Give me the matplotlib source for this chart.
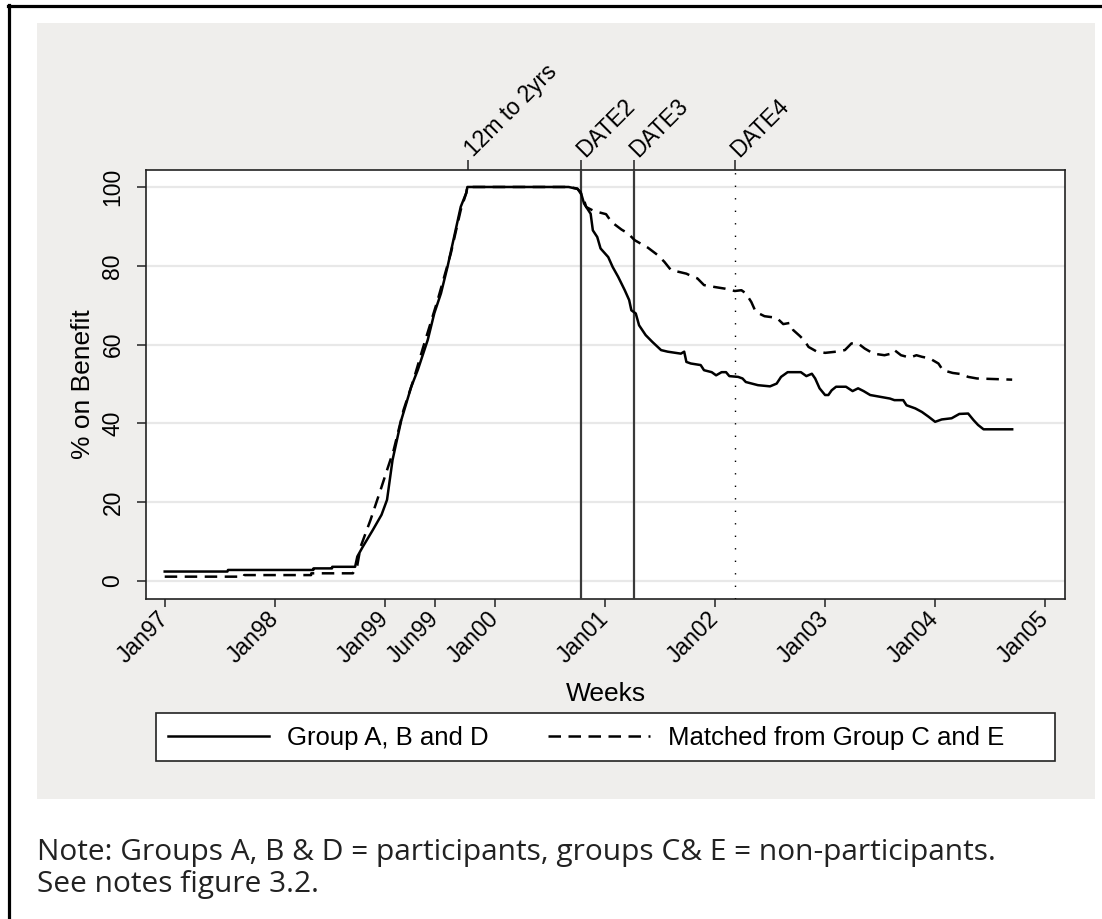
import matplotlib
matplotlib.use("Agg")
import matplotlib.pyplot as plt
from matplotlib.lines import Line2D
from matplotlib.patches import Rectangle

# ---- data -------------------------------------------------------------
# Weekly share of each group on benefit (decimal years on the x axis)
solid_years = [1997.00, 1997.57, 1997.575, 1998.35, 1998.352, 1998.52, 1998.522, 1998.73,
               1998.75, 1998.80, 1998.89, 1998.97, 1999.02, 1999.07, 1999.15, 1999.24,
               1999.30, 1999.39, 1999.45, 1999.51, 1999.57, 1999.63, 1999.69, 1999.74,
               1999.75, 2000.67, 2000.75, 2000.78, 2000.81, 2000.87, 2000.89, 2000.93,
               2000.96, 2001.03, 2001.07, 2001.12, 2001.18, 2001.22, 2001.24, 2001.28,
               2001.31, 2001.37, 2001.43, 2001.51, 2001.57, 2001.69, 2001.72, 2001.74,
               2001.78, 2001.87, 2001.90, 2001.97, 2002.01, 2002.06, 2002.10, 2002.13,
               2002.21, 2002.25, 2002.28, 2002.39, 2002.50, 2002.56, 2002.60, 2002.66,
               2002.78, 2002.83, 2002.88, 2002.91, 2002.95, 2003.00, 2003.03, 2003.06,
               2003.10, 2003.19, 2003.25, 2003.30, 2003.35, 2003.41, 2003.51, 2003.59,
               2003.63, 2003.71, 2003.74, 2003.82, 2003.88, 2003.94, 2004.00, 2004.06,
               2004.15, 2004.22, 2004.30, 2004.35, 2004.39, 2004.44, 2004.70]
solid_pct = [2.4, 2.4, 2.8, 2.8, 3.2, 3.2, 3.6, 3.6,
             6.2, 8.7, 12.9, 16.8, 20.6, 30.7, 40.9, 49.3,
             53.6, 61.2, 68.0, 73.0, 79.8, 87.4, 95.0, 98.5,
             100.0, 100.0, 99.5, 98.7, 95.8, 93.2, 89.0, 87.3,
             84.4, 82.2, 79.7, 77.2, 73.8, 71.3, 68.7, 67.9,
             64.9, 62.4, 60.7, 58.6, 58.2, 57.7, 58.2, 55.6,
             55.2, 54.8, 53.5, 53.0, 52.2, 53.0, 53.0, 52.0,
             51.8, 51.4, 50.5, 49.7, 49.4, 50.1, 51.8, 53.0,
             53.0, 52.0, 52.6, 51.4, 48.9, 47.2, 47.2, 48.4,
             49.3, 49.3, 48.2, 48.9, 48.2, 47.2, 46.7, 46.3,
             45.9, 45.9, 44.6, 43.8, 42.9, 41.7, 40.4, 41.0,
             41.3, 42.4, 42.5, 40.8, 39.6, 38.5, 38.5]

dashed_years = [1997.00, 1997.72, 1997.722, 1998.33, 1998.332, 1998.71, 1998.75, 1998.78,
                1998.87, 1998.96, 1999.03, 1999.08, 1999.17, 1999.26, 1999.35, 1999.48,
                1999.60, 1999.69, 1999.74, 1999.75, 2000.67, 2000.75, 2000.80, 2000.83,
                2000.90, 2001.01, 2001.06, 2001.15, 2001.21, 2001.27, 2001.39, 2001.48,
                2001.54, 2001.60, 2001.68, 2001.74, 2001.80, 2001.84, 2001.90, 2002.00,
                2002.09, 2002.18, 2002.24, 2002.28, 2002.33, 2002.37, 2002.45, 2002.56,
                2002.62, 2002.68, 2002.71, 2002.77, 2002.81, 2002.85, 2002.92, 2003.00,
                2003.10, 2003.18, 2003.24, 2003.30, 2003.36, 2003.44, 2003.54, 2003.60,
                2003.63, 2003.69, 2003.77, 2003.83, 2003.88, 2003.95, 2004.03, 2004.07,
                2004.16, 2004.24, 2004.30, 2004.38, 2004.70]
dashed_pct = [1.1, 1.1, 1.5, 1.5, 1.95, 1.95, 4.0, 8.7,
              15.5, 23.0, 29.0, 33.2, 43.4, 51.0, 59.5, 71.3,
              83.2, 94.2, 98.5, 100.0, 100.0, 99.6, 97.5, 94.9,
              93.9, 93.1, 91.1, 89.2, 88.2, 86.5, 84.6, 82.7,
              81.0, 78.9, 78.4, 78.0, 77.2, 76.8, 75.1, 74.6,
              74.2, 73.6, 73.8, 73.0, 70.8, 68.3, 67.2, 66.8,
              65.2, 65.5, 63.7, 62.2, 61.1, 59.4, 58.3, 57.9,
              58.2, 58.6, 60.3, 60.3, 59.0, 57.7, 57.3, 57.7,
              58.6, 57.3, 56.7, 57.3, 56.9, 56.5, 55.2, 53.5,
              52.8, 52.5, 51.8, 51.4, 51.1]

series_labels = ["Group A, B and D", "Matched from Group C and E"]

xtick_years = [1997.0, 1998.0, 1999.0, 1999.46, 2000.0, 2001.0, 2002.0, 2003.0, 2004.0, 2005.0]
xtick_labels = ["Jan97", "Jan98", "Jan99", "Jun99", "Jan00", "Jan01", "Jan02", "Jan03", "Jan04", "Jan05"]
ytick_values = [0, 20, 40, 60, 80, 100]

event_years = [1999.76, 2000.78, 2001.26, 2002.18]
event_labels = ["12m to 2yrs", "DATE2", "DATE3", "DATE4"]

note_lines = ["Note: Groups A, B & D = participants, groups C& E = non-participants.",
              "See notes figure 3.2."]

# ---- figure -----------------------------------------------------------
W, H = 1102, 919
fig = plt.figure(figsize=(W / 100, H / 100), dpi=100)
fig.patch.set_facecolor("white")
plt.rcParams["font.family"] = ["Liberation Sans", "DejaVu Sans"]

def fx(px):
    return px / W

def fy(py):
    return 1 - py / H

# outer frame (top and left edges)
fig.add_artist(Line2D([fx(8), 1.0], [fy(6), fy(6)], color="black", lw=2.3))
fig.add_artist(Line2D([fx(9), fx(9)], [fy(5), 0.0], color="black", lw=2.3))

# grey graph region
fig.add_artist(Rectangle((fx(37), fy(799)), fx(1095) - fx(37), fy(23) - fy(799),
                         facecolor="#efeeec", edgecolor="none", zorder=0))

ax = fig.add_axes([fx(146), fy(599), fx(1065) - fx(146), fy(170) - fy(599)])
ax.set_facecolor("white")
ax.set_xlim(1996.83, 2005.18)
ax.set_ylim(-4.57, 104.31)

for s in ax.spines.values():
    s.set_color("#222222")
    s.set_linewidth(1.2)

ax.set_yticks(ytick_values)
ax.set_yticklabels([str(v) for v in ytick_values], rotation=90, va="center", fontsize=16.5)
ax.tick_params(axis="y", length=6.5, width=1.1, pad=9, color="#222222")
ax.grid(axis="y", color="#e8e8e8", lw=1.6)
ax.set_axisbelow(True)

ax.set_xticks(xtick_years)
ax.set_xticklabels(xtick_labels, rotation=45, ha="right", va="center",
                   rotation_mode="anchor", fontsize=16.5)
ax.tick_params(axis="x", length=6, width=1.1, pad=6, color="#222222")

ax.set_ylabel("% on Benefit", fontsize=19, labelpad=5)
ax.set_xlabel("Weeks", fontsize=19, labelpad=10)

# event markers along the top
top = ax.twiny()
top.set_xlim(ax.get_xlim())
top.set_xticks(event_years)
top.set_xticklabels(event_labels, rotation=45, ha="left", va="center",
                    rotation_mode="anchor", fontsize=16.5)
top.tick_params(axis="x", length=7, width=1.1, pad=5, color="#222222")
for s in top.spines.values():
    s.set_visible(False)

ax.axvline(event_years[1], color="#3a3a3a", lw=1.6, zorder=3)
ax.axvline(event_years[2], color="#3a3a3a", lw=1.6, zorder=3)
ax.axvline(event_years[3], color="black", lw=1.0, ls=(0, (1, 8)), zorder=3)

h1, = ax.plot(solid_years, solid_pct, color="black", lw=1.8, zorder=4,
              label=series_labels[0])
h2, = ax.plot(dashed_years, dashed_pct, color="black", lw=1.8, ls=(0, (5, 3)),
              zorder=4, label=series_labels[1])

# legend box
fig.add_artist(Rectangle((fx(156), fy(761)), fx(1055) - fx(156), fy(713) - fy(761),
                         facecolor="white", edgecolor="#222222", lw=1.2, zorder=1))
leg = fig.legend(handles=[h1, h2], labels=series_labels, ncol=2, frameon=False,
                 loc="center left", bbox_to_anchor=(fx(168), fy(738)),
                 borderpad=0, borderaxespad=0, fontsize=18.5,
                 handlelength=3.95, handletextpad=0.7, columnspacing=2.3)
leg.set_zorder(2)

# footnote
fig.text(fx(37), fy(860), note_lines[0], fontsize=21.5, family="Open Sans",
         color="#222222", ha="left", va="baseline")
fig.text(fx(37), fy(892), note_lines[1], fontsize=21.5, family="Open Sans",
         color="#222222", ha="left", va="baseline")

fig.savefig("out.png", dpi=100, facecolor="white")
